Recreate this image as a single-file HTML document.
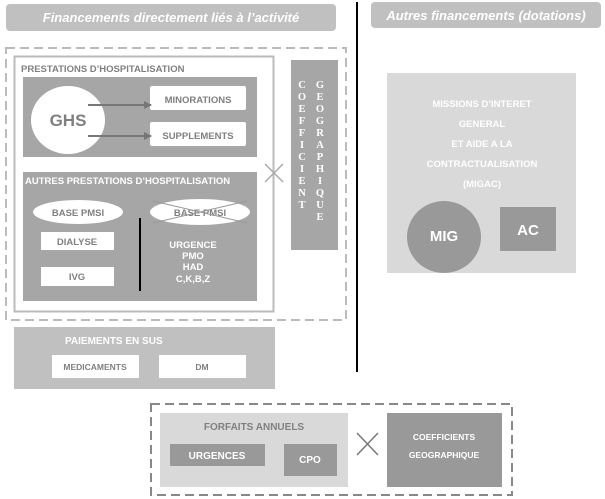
<!DOCTYPE html>
<html><head><meta charset="utf-8"><style>
html,body{margin:0;padding:0;background:#fff;width:605px;height:499px;overflow:hidden}
svg{display:block}
text{font-family:"Liberation Sans",Arial,sans-serif;font-weight:bold}
text.s{font-family:"Liberation Serif",serif}
</style></head><body>
<svg width="605" height="499" viewBox="0 0 605 499" xmlns="http://www.w3.org/2000/svg">
<defs><marker id="ah" markerWidth="8" markerHeight="8" refX="7" refY="4" orient="auto" markerUnits="userSpaceOnUse"><path d="M0,0 L8,4 L0,8 z" fill="#777"/></marker></defs>
<rect x="6" y="4" width="330" height="27" rx="4" fill="#c0c0c0"/>
<text x="171" y="22" text-anchor="middle" font-size="13" font-style="italic" fill="#fff">Financements directement liés à l’activité</text>
<rect x="371" y="2" width="230" height="26" rx="4" fill="#c0c0c0"/>
<text x="486" y="20" text-anchor="middle" font-size="13" font-style="italic" fill="#fff">Autres financements (dotations)</text>
<line x1="357" y1="2" x2="357" y2="372" stroke="#000" stroke-width="2"/>
<rect x="6" y="48" width="340" height="272" fill="none" stroke="#bbb" stroke-width="2" stroke-dasharray="9,5"/>
<rect x="14.5" y="56.5" width="259" height="255" fill="none" stroke="#bbb" stroke-width="2"/>
<text x="21" y="72" font-size="9.5" fill="#808080">PRESTATIONS D’HOSPITALISATION</text>
<rect x="23" y="77" width="234" height="80" fill="#a6a6a6"/>
<ellipse cx="68" cy="120" rx="37" ry="34" fill="#fff"/>
<text x="68" y="126" text-anchor="middle" font-size="17" fill="#808080">GHS</text>
<rect x="150" y="86" width="96" height="24" rx="2" fill="#fff"/>
<text x="198" y="103" text-anchor="middle" font-size="9.5" fill="#808080">MINORATIONS</text>
<rect x="150" y="122" width="96" height="24" rx="2" fill="#fff"/>
<text x="198" y="139" text-anchor="middle" font-size="9.5" fill="#808080">SUPPLEMENTS</text>
<line x1="88" y1="105" x2="151" y2="105" stroke="#777" stroke-width="2" marker-end="url(#ah)"/>
<line x1="88" y1="136" x2="151" y2="136" stroke="#777" stroke-width="2" marker-end="url(#ah)"/>
<rect x="23" y="172" width="234" height="129" fill="#a6a6a6"/>
<text x="25" y="184" font-size="9.5" fill="#fff">AUTRES PRESTATIONS D’HOSPITALISATION</text>
<ellipse cx="78" cy="212" rx="45" ry="12" fill="#fff"/>
<text x="78" y="216" text-anchor="middle" font-size="9.5" fill="#808080">BASE PMSI</text>
<ellipse cx="200" cy="212" rx="50" ry="13" fill="#fff"/>
<text x="200" y="216" text-anchor="middle" font-size="9.5" fill="#808080">BASE PMSI</text>
<line x1="153" y1="201" x2="247" y2="223" stroke="#999" stroke-width="1"/>
<line x1="153" y1="223" x2="247" y2="201" stroke="#999" stroke-width="1"/>
<rect x="41" y="232" width="73" height="18" fill="#fff"/>
<text x="77" y="245" text-anchor="middle" font-size="9.5" fill="#808080">DIALYSE</text>
<rect x="41" y="267" width="73" height="19" fill="#fff"/>
<text x="77" y="280" text-anchor="middle" font-size="9.5" fill="#808080">IVG</text>
<line x1="140" y1="218" x2="140" y2="291" stroke="#000" stroke-width="2"/>
<g font-size="9.5" fill="#fff" text-anchor="middle">
<text x="193" y="248">URGENCE</text><text x="193" y="259">PMO</text><text x="193" y="270">HAD</text><text x="193" y="282">C,K,B,Z</text></g>
<line x1="265" y1="164" x2="283" y2="182" stroke="#aaa" stroke-width="1.5"/>
<line x1="265" y1="182" x2="283" y2="164" stroke="#aaa" stroke-width="1.5"/>
<rect x="291" y="60" width="47" height="190" fill="#a6a6a6"/>
<g font-size="10.5" fill="#fff" text-anchor="middle">
<text class="s" x="302" y="88">C</text><text class="s" x="302" y="100">O</text><text class="s" x="302" y="112">E</text><text class="s" x="302" y="124">F</text><text class="s" x="302" y="136">F</text><text class="s" x="302" y="148">I</text><text class="s" x="302" y="160">C</text><text class="s" x="302" y="172">I</text><text class="s" x="302" y="184">E</text><text class="s" x="302" y="196">N</text><text class="s" x="302" y="208">T</text>
<text class="s" x="320" y="88">G</text><text class="s" x="320" y="100">E</text><text class="s" x="320" y="112">O</text><text class="s" x="320" y="124">G</text><text class="s" x="320" y="136">R</text><text class="s" x="320" y="148">A</text><text class="s" x="320" y="160">P</text><text class="s" x="320" y="172">H</text><text class="s" x="320" y="184">I</text><text class="s" x="320" y="196">Q</text><text class="s" x="320" y="208">U</text><text class="s" x="320" y="220">E</text></g>
<rect x="14" y="327" width="261" height="62" fill="#c0c0c0"/>
<text x="65" y="344" font-size="10" fill="#fff">PAIEMENTS EN SUS</text>
<rect x="52" y="355" width="87" height="23" fill="#fff"/>
<text x="95" y="370" text-anchor="middle" font-size="8.5" fill="#808080">MEDICAMENTS</text>
<rect x="159" y="355" width="87" height="23" fill="#fff"/>
<text x="202" y="370" text-anchor="middle" font-size="8.5" fill="#808080">DM</text>
<rect x="151" y="404" width="361" height="91" fill="none" stroke="#888" stroke-width="2" stroke-dasharray="9,5"/>
<rect x="160" y="413" width="188" height="74" fill="#d9d9d9"/>
<text x="254" y="430" text-anchor="middle" font-size="10" fill="#808080">FORFAITS ANNUELS</text>
<rect x="170" y="444" width="95" height="22" fill="#999"/>
<text x="217" y="459" text-anchor="middle" font-size="10" fill="#fff">URGENCES</text>
<rect x="284" y="444" width="53" height="32" fill="#999"/>
<text x="310" y="463" text-anchor="middle" font-size="10" fill="#fff">CPO</text>
<line x1="357" y1="433" x2="378" y2="455" stroke="#777" stroke-width="1.5"/>
<line x1="357" y1="455" x2="378" y2="433" stroke="#777" stroke-width="1.5"/>
<rect x="387" y="413" width="115" height="74" fill="#999"/>
<g font-size="8.5" fill="#fff" text-anchor="middle"><text x="444" y="440">COEFFICIENTS</text><text x="444" y="458">GEOGRAPHIQUE</text></g>
<rect x="387" y="73" width="189" height="200" fill="#d9d9d9"/>
<g font-size="9.5" fill="#fff" text-anchor="middle"><text x="482" y="107">MISSIONS D’INTERET</text><text x="482" y="127">GENERAL</text><text x="482" y="147">ET AIDE A LA</text><text x="482" y="167">CONTRACTUALISATION</text><text x="482" y="187">(MIGAC)</text></g>
<ellipse cx="444" cy="237" rx="37" ry="36" fill="#999"/>
<text x="444" y="241" text-anchor="middle" font-size="15" fill="#fff">MIG</text>
<rect x="500" y="207" width="56" height="44" fill="#999"/>
<text x="528" y="235" text-anchor="middle" font-size="15" fill="#fff">AC</text>
</svg>
</body></html>
